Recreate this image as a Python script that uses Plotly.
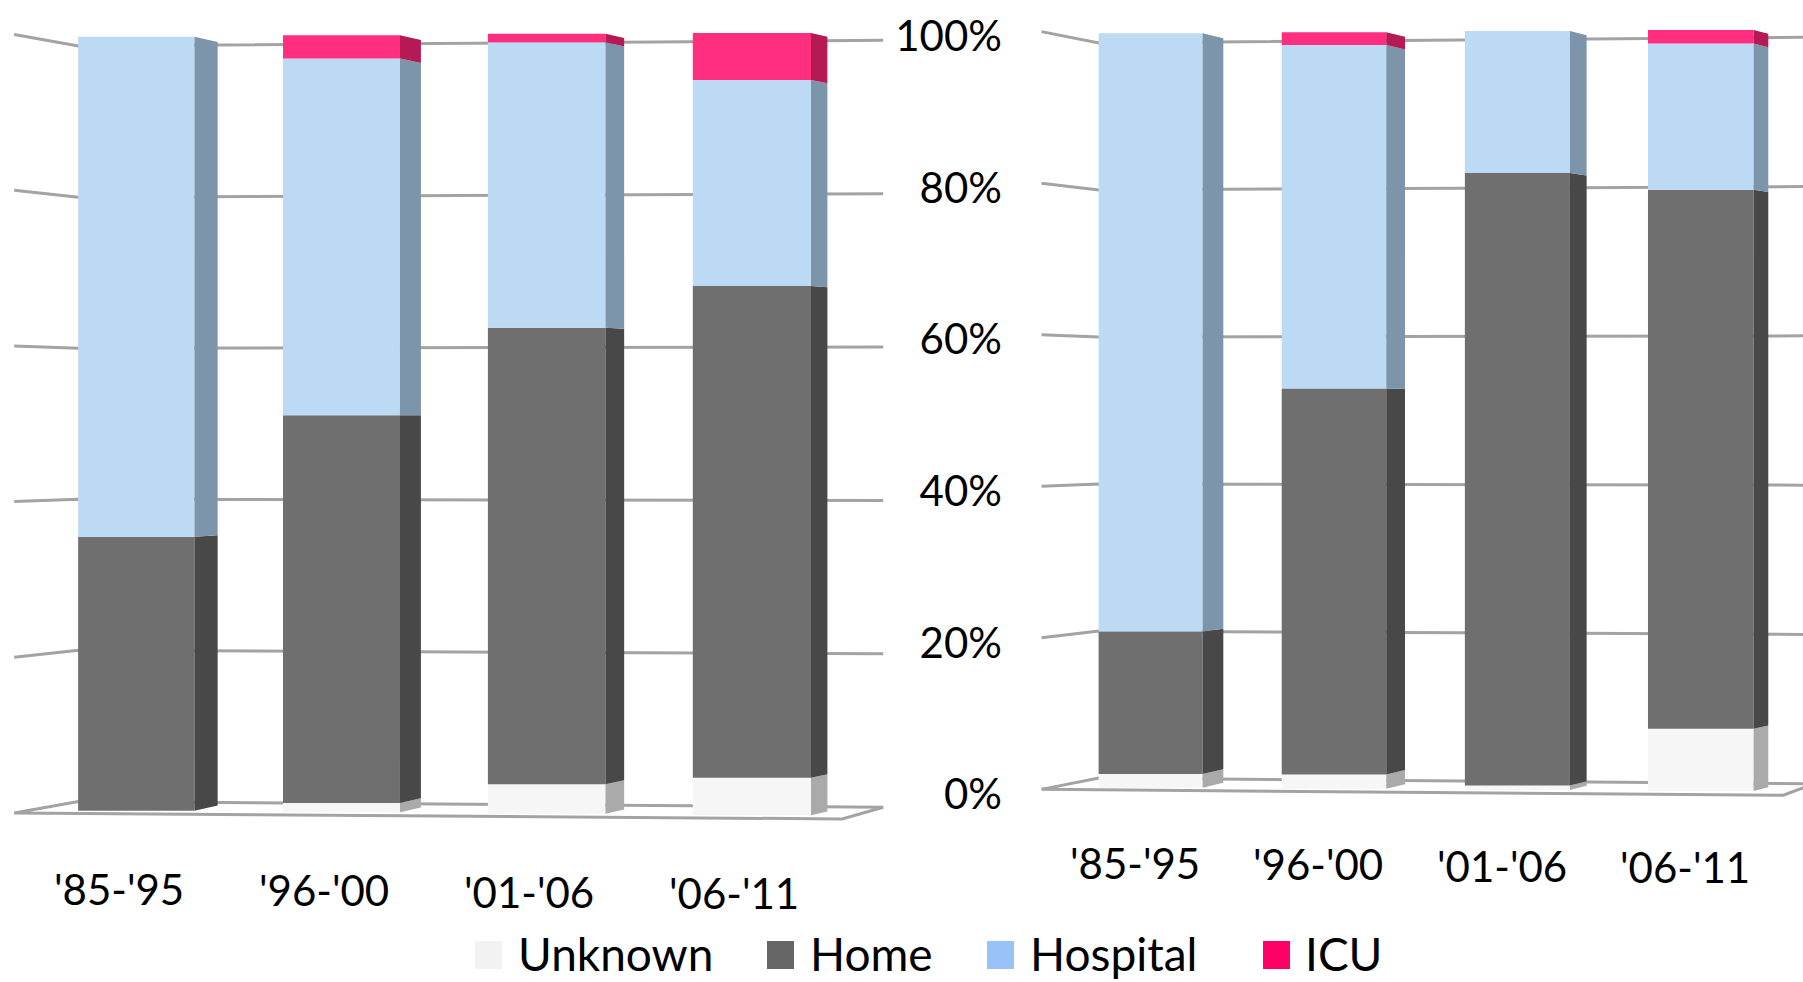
import plotly.graph_objects as go

# ---------- data (percent of patients) ----------
periods = ["'85-'95", "'96-'00", "'01-'06", "'06-'11"]
series_names = ["Unknown", "Home", "Hospital", "ICU"]

left_unknown = [0.0, 1.2, 3.8, 4.8]
left_home = [35.4, 49.9, 58.5, 62.8]
left_hospital = [64.6, 45.9, 36.6, 26.3]
left_icu = [0.0, 3.0, 1.1, 6.0]

right_unknown = [1.8, 1.9, 0.6, 8.2]
right_home = [18.9, 51.0, 80.7, 70.8]
right_hospital = [79.3, 45.4, 18.7, 19.2]
right_icu = [0.0, 1.7, 0.0, 1.8]

tick_values = [0, 20, 40, 60, 80, 100]
tick_labels = ["0%", "20%", "40%", "60%", "80%", "100%"]

# ---------- styles ----------
FONT = "Lato"
front_colors = ["#f6f6f6", "#6f6f6f", "#bcdaf4", "#ff2e7e"]
side_colors = ["#aaaaaa", "#484848", "#7c95ab", "#b51a54"]
swatch_colors = ["#f2f2f2", "#666666", "#99c2f8", "#ff0066"]
GRID = "#a3a3a3"
W, H = 1803, 982

panels = [
    dict(xpx=(0, 900), top=34.5, bottom=813.0, c0=136.3, step=205.2, k=0.004, bk=0.994,
         wall_right=3.64, floor_right=3.44,
         data=[left_unknown, left_home, left_hospital, left_icu], xa="x", ya="y"),
    dict(xpx=(1003, 1803), top=31.6, bottom=789.4, c0=1150.6, step=183.4, k=0.003, bk=0.9955,
         wall_right=3.62, floor_right=3.45,
         data=[right_unknown, right_home, right_hospital, right_icu], xa="x2", ya="y2"),
]
PAD = 2.0
WALL_L, WALL_B = -0.595, -0.282


def wall_back(i, v):
    return 50 + (v - 50) * (0.9713 + 0.0038 * i)


def wall_front(i, v):
    return 50 + (v - 50) * (1.0022 + 0.0038 * i)


fig = go.Figure()
shapes = []
annotations = []
layout_axes = {}

for p_no, p in enumerate(panels):
    unit = (p["bottom"] - p["top"]) / 100
    sfx = "" if p_no == 0 else "2"
    layout_axes["xaxis" + sfx] = dict(
        domain=[p["xpx"][0] / W, p["xpx"][1] / W],
        range=[(p["xpx"][0] - p["c0"]) / p["step"], (p["xpx"][1] - p["c0"]) / p["step"]],
        visible=False, anchor="y" + sfx, automargin=False,
    )
    layout_axes["yaxis" + sfx] = dict(
        domain=[1 - (p["bottom"] + PAD * unit) / H, 1 - (p["top"] - PAD * unit) / H],
        range=[-PAD, 100 + PAD], anchor="x" + sfx, automargin=False,
        showgrid=False, zeroline=False, showline=False, ticks="",
        tickvals=tick_values, ticktext=tick_labels,
        showticklabels=(p_no == 1), ticklabelshift=5,
        tickfont=dict(family=FONT, size=42, color="#000000"),
    )

    scale = lambda i, p=p: p["bk"] + p["k"] * i
    front = lambda i, v, scale=scale: 50 + (v - 50) * scale(i)
    shrink = lambda i: 0.013 - 0.001 * i
    back = lambda i, v, scale=scale: 50 + (v - 50) * (scale(i) - shrink(i))
    width = lambda i: 0.567 + 0.003 * i
    depth = lambda i: 0.113 - 0.011 * i

    xr, yr = p["xa"], p["ya"]
    fl = p["floor_right"]
    wr = p["wall_right"]
    shapes.append(dict(
        type="path", xref=xr, yref=yr, layer="below", fillcolor="#ffffff",
        line=dict(color=GRID, width=3),
        path=(f"M{WALL_L},{wall_front(WALL_L, 0)} L{WALL_B},{wall_back(WALL_B, 0)} "
              f"L{wr},{wall_back(wr, 0)} L{fl},{wall_front(fl, 0)} Z"),
    ))
    for t in tick_values[1:]:
        shapes.append(dict(
            type="path", xref=xr, yref=yr, layer="below",
            line=dict(color=GRID, width=3),
            path=(f"M{WALL_L},{wall_front(WALL_L, t)} L{WALL_B},{wall_back(WALL_B, t)} "
                  f"L{wr},{wall_back(wr, t)}"),
        ))

    positions = list(range(len(periods)))
    cum = [0.0] * len(periods)
    for s, name in enumerate(series_names):
        vals = p["data"][s]
        lo = cum[:]
        hi = [a + b for a, b in zip(lo, vals)]
        cum = hi
        fig.add_bar(
            x=positions, base=[front(i, lo[i]) for i in positions],
            y=[front(i, hi[i]) - front(i, lo[i]) for i in positions],
            width=[width(i) for i in positions],
            marker=dict(color=front_colors[s], line=dict(width=0)),
            name=name, customdata=vals, showlegend=False,
            hovertemplate=name + ": %{customdata}%<extra></extra>",
            xaxis=p["xa"], yaxis=p["ya"],
        )
        sx, sy = [], []
        for i in positions:
            if vals[i] <= 0:
                continue
            fx = i + width(i) / 2
            bx = fx + depth(i)
            sx += [fx, bx, bx, fx, fx, None]
            sy += [front(i, lo[i]), back(i, lo[i]), back(i, hi[i]), front(i, hi[i]), front(i, lo[i]), None]
        fig.add_scatter(
            x=sx, y=sy, mode="lines", fill="toself", fillcolor=side_colors[s],
            line=dict(width=0, color=side_colors[s]), hoverinfo="skip",
            showlegend=False, xaxis=p["xa"], yaxis=p["ya"],
        )

    for i, label in enumerate(periods):
        annotations.append(dict(
            text=label, x=i - 0.085, y=1 - (p["bottom"] + (9.7 + 0.2 * i) * unit) / H, xref=xr, yref="paper",
            showarrow=False, xanchor="center", yanchor="middle",
            font=dict(family=FONT, size=42, color="#000000"),
        ))

legend_keys = [(475, 516), (767, 808), (987, 1028), (1263, 1303)]
legend_key_y = 955
legend_text_y = 953
for name, color, (kx, tx) in zip(series_names, swatch_colors, legend_keys):
    shapes.append(dict(
        type="rect", xref="paper", yref="paper", line=dict(width=0), fillcolor=color,
        x0=kx / W, x1=(kx + 27) / W, y0=1 - (legend_key_y + 14) / H, y1=1 - (legend_key_y - 14) / H,
    ))
    annotations.append(dict(
        text=name, x=tx / W, y=1 - legend_text_y / H, xref="paper", yref="paper",
        showarrow=False, xanchor="left", yanchor="middle",
        font=dict(family=FONT, size=46, color="#000000"),
    ))

fig.update_layout(
    width=W, height=H, autosize=False, margin=dict(l=0, r=0, t=0, b=0),
    paper_bgcolor="#ffffff", plot_bgcolor="rgba(0,0,0,0)", barmode="overlay",
    showlegend=False, shapes=shapes, annotations=annotations, **layout_axes,
)

fig.write_html("out.html", post_script="document.body.style.margin='0';document.body.style.overflow='hidden';",
               config=dict(displayModeBar=False))
